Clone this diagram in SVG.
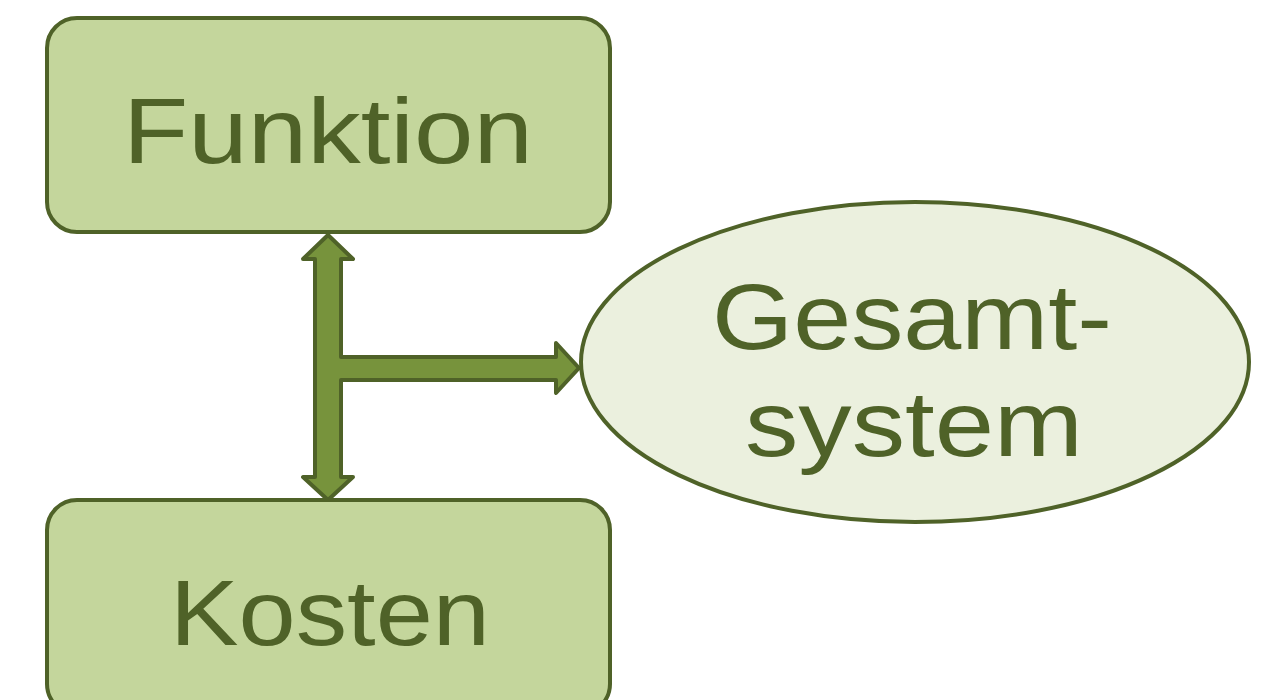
<svg xmlns="http://www.w3.org/2000/svg" width="1279" height="700" viewBox="0 0 1279 700">
<style>
.box{fill:#C4D69C;stroke:#4F6228;stroke-width:4}
.ell{fill:#EBF0DE;stroke:#4F6228;stroke-width:4}
.lbl{font-family:"Liberation Sans",Arial,sans-serif;font-size:92px;fill:#4F6228}
.arrow{fill:#77933C;stroke:#4F6228;stroke-width:4;stroke-linejoin:round}
</style>
<rect width="1279" height="700" fill="#FFFFFF"/>
<g id="connectors">
<polygon class="arrow" points="328,235 353,259 341,259 341,357 556,357 556,343 579,368 556,393 556,380 341,380 341,477 353,477 328,500 303,477 315,477 315,259 303,259"/>
</g>
<g id="funktion">
<rect class="box" x="47" y="18" width="563" height="214" rx="30" ry="30"/>
<text class="lbl" x="123" y="163" textLength="410" lengthAdjust="spacingAndGlyphs">Funktion</text>
</g>
<g id="kosten">
<rect class="box" x="47" y="500" width="563" height="214" rx="30" ry="30"/>
<text class="lbl" x="170" y="645" textLength="320" lengthAdjust="spacingAndGlyphs">Kosten</text>
</g>
<g id="gesamtsystem">
<ellipse class="ell" cx="915" cy="362" rx="334" ry="160"/>
<text class="lbl" x="712" y="349" textLength="400" lengthAdjust="spacingAndGlyphs">Gesamt-</text>
<text class="lbl" x="745" y="456" textLength="338" lengthAdjust="spacingAndGlyphs">system</text>
</g>
</svg>
